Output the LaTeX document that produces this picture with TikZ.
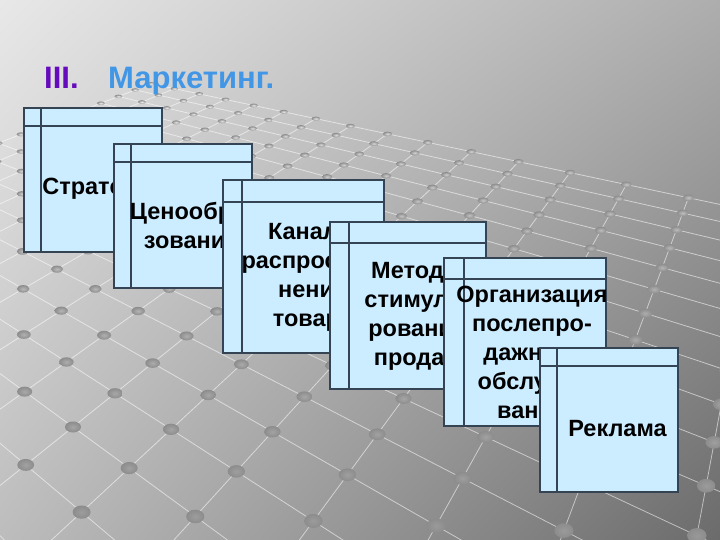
\documentclass[tikz,border=0pt]{standalone}
\usepackage{fontspec}
\setmainfont{Liberation Sans}
\usetikzlibrary{shadings}
\definecolor{card_fill}{RGB}{204,236,255}
\definecolor{card_edge}{RGB}{52,68,84}
\definecolor{title_purple}{RGB}{102,10,190}
\definecolor{title_blue}{RGB}{66,150,230}

\begin{document}
\begin{tikzpicture}[x=1pt,y=-1pt]
    \tikzstyle{card}=[draw=card_edge, fill=card_fill, line width=1.1pt, inner sep=0pt, outer sep=0pt]
    \tikzstyle{cardline}=[draw=card_edge, line width=1.1pt]
    \tikzstyle{cardtext}=[align=center, inner sep=0pt, text=black, font=\fontsize{23.5}{29}\selectfont\bfseries]
    \tikzstyle{gridline}=[white, opacity=0.55, line width=0.8pt]
    \tikzstyle{title}=[anchor=base west, inner sep=0pt, font=\fontsize{31}{36}\selectfont\bfseries]

    \useasboundingbox (0,0) rectangle (720,540);
    \shade[upper left=white!91!black, upper right=white!68!black,
           lower left=white!74!black, lower right=white!42!black] (0,0) rectangle (720,540);

    % floor grid in perspective, u = \i-4, v = \j-9
    \begin{scope}
    \clip (0,0) rectangle (720,540);
    \foreach \i in {0,...,19}
      \foreach \j in {0,...,16} {
        \pgfmathsetmacro\dd{1+0.0588*(\i-4)-0.075*(\j-9)}
        \coordinate (g\i-\j) at ({(73+48.8*(\i-4)+46.5*(\j-9))/\dd},{(427-10.6*(\i-4)+6*(\j-9))/\dd});
      }
    \foreach \i in {0,...,19} \draw[gridline] (g\i-0) -- (g\i-16);
    \foreach \j in {0,...,16} \draw[gridline] (g0-\j) -- (g19-\j);
    \foreach \i in {0,...,19}
      \foreach \j in {0,...,16} {
        \pgfmathsetmacro\dd{1+0.0588*(\i-4)-0.075*(\j-9)}
        \pgfmathtruncatemacro\lt{max(15,min(90,30+45*(\dd-1)))}
        \shade[inner color=white!\lt!gray, outer color=gray!90] (g\i-\j) ellipse ({8/(\dd^0.8)} and {5.5/(\dd^1.3)});
      }
    \end{scope}

    \node[title, text=title_purple] (num)  at (44,89)  {III.};
    \node[title, text=title_blue]   (head) at (108,89) {Маркетинг.};

    \node[card, minimum width=138, minimum height=144] (c1) at (93,180) {};
    \draw[cardline] ([xshift=17pt]c1.north west) -- ([xshift=17pt]c1.south west)
                    ([yshift=-18pt]c1.north west) -- ([yshift=-18pt]c1.north east);
    \node[cardtext] (t1) at ([xshift=8.5pt,yshift=-9pt]c1.center) {Стратегия};

    \node[card, minimum width=138, minimum height=144] (c2) at (183,216) {};
    \draw[cardline] ([xshift=17pt]c2.north west) -- ([xshift=17pt]c2.south west)
                    ([yshift=-18pt]c2.north west) -- ([yshift=-18pt]c2.north east);
    \node[cardtext] (t2) at ([xshift=8.5pt,yshift=-9pt]c2.center) {Ценообра-\\зования};

    \node[card, minimum width=161, minimum height=173] (c3) at (303.5,266.5) {};
    \draw[cardline] ([xshift=19pt]c3.north west) -- ([xshift=19pt]c3.south west)
                    ([yshift=-22pt]c3.north west) -- ([yshift=-22pt]c3.north east);
    \node[cardtext] (t3) at ([xshift=9.5pt,yshift=-11pt]c3.center) {Каналы\\распростра-\\нения\\товара};

    \node[card, minimum width=156, minimum height=167] (c4) at (408,305.5) {};
    \draw[cardline] ([xshift=19pt]c4.north west) -- ([xshift=19pt]c4.south west)
                    ([yshift=-21pt]c4.north west) -- ([yshift=-21pt]c4.north east);
    \node[cardtext] (t4) at ([xshift=9.5pt,yshift=-10.5pt]c4.center) {Методы\\стимули-\\рования\\продаж};

    \node[card, minimum width=162, minimum height=168] (c5) at (525,342) {};
    \draw[cardline] ([xshift=20pt]c5.north west) -- ([xshift=20pt]c5.south west)
                    ([yshift=-21pt]c5.north west) -- ([yshift=-21pt]c5.north east);
    \node[cardtext] (t5) at ([xshift=7pt,yshift=-10.5pt]c5.center) {Организация\\послепро-\\дажного\\обслужи-\\вания};

    \node[card, minimum width=138, minimum height=144] (c6) at (609,420) {};
    \draw[cardline] ([xshift=17pt]c6.north west) -- ([xshift=17pt]c6.south west)
                    ([yshift=-18pt]c6.north west) -- ([yshift=-18pt]c6.north east);
    \node[cardtext] (t6) at ([xshift=8.5pt,yshift=-9pt]c6.center) {Реклама};
\end{tikzpicture}
\end{document}
